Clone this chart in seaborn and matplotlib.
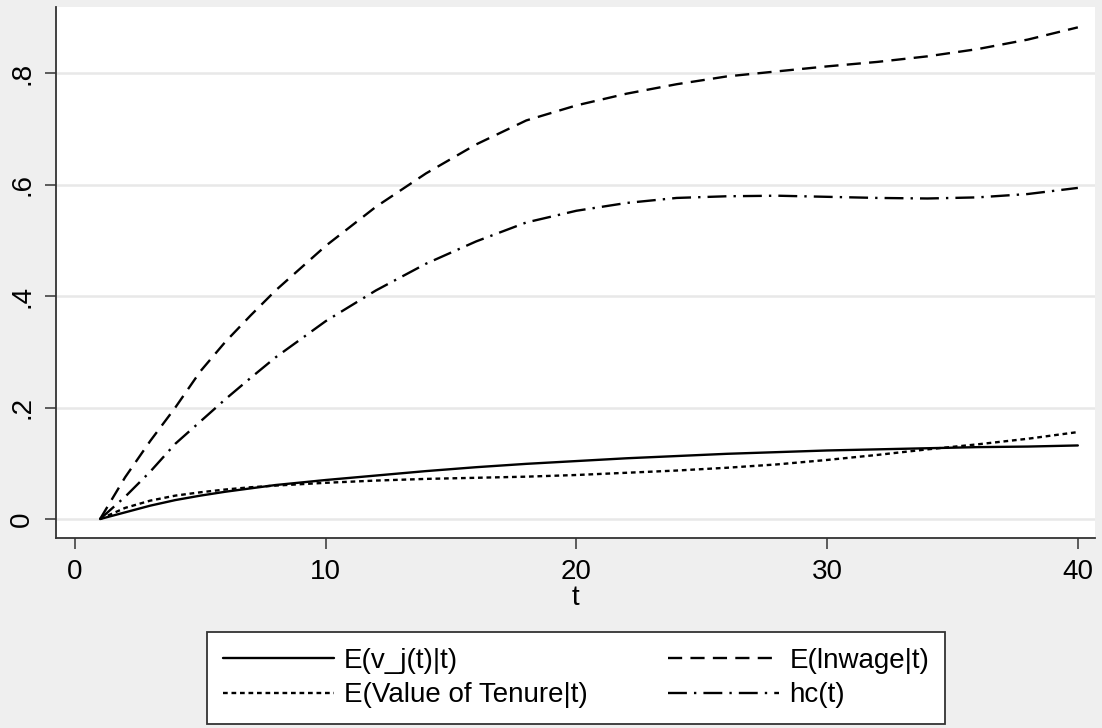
import matplotlib
matplotlib.use('Agg')
import matplotlib.pyplot as plt
import seaborn as sns
import pandas as pd

# values
t = [1, 2, 3, 4, 5, 6, 7, 8, 10, 12, 14, 16, 18, 20, 22, 24, 26, 28, 30, 32, 34, 36, 38, 40]
v_j = [0, 0.012, 0.024, 0.034, 0.042, 0.049, 0.055, 0.061, 0.070, 0.078, 0.086, 0.093,
       0.099, 0.104, 0.109, 0.113, 0.117, 0.120, 0.123, 0.125, 0.127, 0.129, 0.130, 0.132]
lnwage = [0, 0.075, 0.140, 0.200, 0.265, 0.318, 0.365, 0.410, 0.490, 0.560, 0.620, 0.672,
          0.715, 0.742, 0.763, 0.780, 0.794, 0.803, 0.812, 0.820, 0.830, 0.843, 0.860, 0.882]
tenure = [0, 0.020, 0.033, 0.042, 0.048, 0.053, 0.057, 0.060, 0.065, 0.069, 0.072, 0.074,
          0.076, 0.079, 0.083, 0.087, 0.092, 0.098, 0.106, 0.115, 0.125, 0.134, 0.144, 0.156]
hc = [0, 0.040, 0.085, 0.135, 0.175, 0.215, 0.253, 0.290, 0.355, 0.410, 0.458, 0.498,
      0.532, 0.553, 0.567, 0.576, 0.579, 0.580, 0.578, 0.576, 0.575, 0.577, 0.583, 0.594]

names = ['E(v_j(t)|t)', 'E(lnwage|t)', 'E(Value of Tenure|t)', 'hc(t)']
series = [v_j, lnwage, tenure, hc]

df = pd.concat([pd.DataFrame({'t': t, 'value': s, 'series': n}) for n, s in zip(names, series)])

sns.set_theme(style='white')
plt.rcParams['font.family'] = ['Liberation Sans', 'DejaVu Sans']
plt.rcParams['text.color'] = 'black'
plt.rcParams['axes.labelcolor'] = 'black'
plt.rcParams['xtick.labelcolor'] = 'black'
plt.rcParams['ytick.labelcolor'] = 'black'

bg = '#efefef'
fig = plt.figure(figsize=(11.02, 7.28), dpi=100, facecolor=bg)
ax = fig.add_axes([0.051, 0.261, 0.943, 0.729])

dashes = {
    'E(v_j(t)|t)': '',
    'E(lnwage|t)': (6, 3.5),
    'E(Value of Tenure|t)': (2, 1.6),
    'hc(t)': (8, 3, 1, 3),
}
sns.lineplot(data=df, x='t', y='value', style='series', style_order=names,
             dashes=dashes, color='black', linewidth=1.7, ax=ax, legend=False)

ax.set_xlim(-0.75, 40.7)
ax.set_ylim(-0.034, 0.918)
ax.set_xticks([0, 10, 20, 30, 40])
ax.set_yticks([0, 0.2, 0.4, 0.6, 0.8])
ax.set_yticklabels(['0', '.2', '.4', '.6', '.8'], rotation=90, va='center')
ax.yaxis.grid(True, color='#e8e8e8', linewidth=1.8)
ax.xaxis.grid(False)
ax.set_axisbelow(True)
for side in ['top', 'right']:
    ax.spines[side].set_visible(False)
for side in ['left', 'bottom']:
    ax.spines[side].set_color('#333333')
    ax.spines[side].set_linewidth(1.3)
ax.tick_params(axis='both', direction='out', length=8, width=1.1, color='#333333',
               labelsize=20, pad=7, left=True, bottom=True, labelcolor='black')
ax.set_xlabel('t', fontsize=20, labelpad=0, color='black')
ax.set_ylabel('')

# row-major order for the legend: matplotlib fills columns first
order = [0, 2, 1, 3]
handles = []
for n in names:
    h = plt.Line2D([], [], color='black', linewidth=1.7)
    if dashes[n]:
        h.set_dashes(dashes[n])
    handles.append(h)
leg = fig.legend([handles[i] for i in order], [names[i] for i in order], ncol=2,
                 loc='center', bbox_to_anchor=(0.5227, 0.0685),
                 fontsize=20, frameon=True, fancybox=False, handlelength=4.0,
                 columnspacing=2.9, handletextpad=0.36, labelspacing=0.3,
                 borderpad=0.58, borderaxespad=0, labelcolor='black')
leg.get_frame().set_edgecolor('#333333')
leg.get_frame().set_linewidth(1.3)
leg.get_frame().set_facecolor('white')
leg.get_frame().set_alpha(1)

fig.savefig('out.png', dpi=100, facecolor=bg)
